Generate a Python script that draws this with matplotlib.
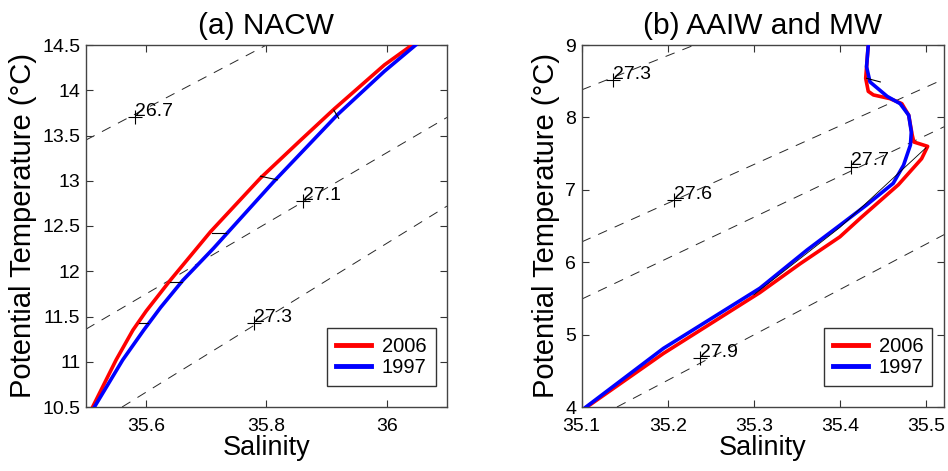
import matplotlib
matplotlib.use("Agg")
import matplotlib.pyplot as plt

plt.rcParams['font.family'] = ['Liberation Sans', 'DejaVu Sans']
plt.rcParams['lines.scale_dashes'] = False

# ---- (a) NACW ----
a_s_2006 = [35.511, 35.550, 35.578, 35.600, 35.640, 35.707, 35.790, 35.857, 35.912, 35.996, 36.042]
a_t_2006 = [10.50, 11.02, 11.35, 11.56, 11.90, 12.437, 13.03, 13.45, 13.79, 14.28, 14.50]
a_s_1997 = [35.514, 35.561, 35.596, 35.624, 35.661, 35.712, 35.812, 35.918, 35.996, 36.048]
a_t_1997 = [10.50, 11.02, 11.35, 11.60, 11.90, 12.254, 12.99, 13.73, 14.21, 14.50]

# isopycnal segments (start S, start T, end S, end T) and label points
a_iso_s0 = [35.50, 35.50, 35.56]
a_iso_t0 = [13.45, 11.36, 10.50]
a_iso_s1 = [35.80, 36.10, 36.10]
a_iso_t1 = [14.50, 13.70, 12.72]
a_lab_s = [35.582, 35.860, 35.780]
a_lab_t = [13.70, 12.776, 11.43]
a_lab_txt = ["26.7", "27.1", "27.3"]

# short black links between the two profiles
a_link_s0 = [35.588, 35.640, 35.709, 35.790, 35.912]
a_link_t0 = [11.43, 11.885, 12.42, 13.05, 13.78]
a_link_s1 = [35.603, 35.660, 35.732, 35.818, 35.920]
a_link_t1 = [11.43, 11.885, 12.42, 13.01, 13.69]

# ---- (b) AAIW and MW ----
b_s_2006 = [35.433, 35.430, 35.433, 35.439, 35.458, 35.472, 35.480, 35.484, 35.486,
            35.502, 35.495, 35.468, 35.424, 35.400, 35.354, 35.307, 35.195, 35.106]
b_t_2006 = [9.00, 8.54, 8.36, 8.31, 8.26, 8.19, 8.03, 7.76, 7.66,
            7.60, 7.43, 7.07, 6.61, 6.35, 5.98, 5.58, 4.74, 4.00]
b_s_1997 = [35.433, 35.431, 35.435, 35.455, 35.470, 35.480, 35.483, 35.482,
            35.474, 35.462, 35.431, 35.400, 35.362, 35.307, 35.195, 35.105]
b_t_1997 = [9.00, 8.70, 8.49, 8.29, 8.19, 8.03, 7.80, 7.62,
            7.34, 7.09, 6.79, 6.51, 6.17, 5.64, 4.81, 4.00]

b_iso_s0 = [35.100, 35.100, 35.100, 35.141]
b_iso_t0 = [8.38, 6.28, 5.49, 4.00]
b_iso_s1 = [35.231, 35.521, 35.521, 35.521]
b_iso_t1 = [9.00, 8.53, 7.87, 6.38]
b_lab_s = [35.136, 35.207, 35.413, 35.238]
b_lab_t = [8.52, 6.86, 7.32, 4.67]
b_lab_txt = ["27.3", "27.6", "27.7", "27.9"]

b_link_s = [35.500, 35.400, 35.300]
b_link_t = [7.58, 6.48, 5.55]
b_link2_s = [35.431, 35.447]
b_link2_t = [8.54, 8.49]

RED = '#ff0000'
BLUE = '#0000ff'


def style_axes(ax, xlim, ylim, xticks, yticks, xlabels, ylabels):
    ax.set_xlim(*xlim)
    ax.set_ylim(*ylim)
    ax.set_xticks(xticks)
    ax.set_xticklabels(xlabels)
    ax.set_yticks(yticks)
    ax.set_yticklabels(ylabels)
    ax.tick_params(direction='in', length=5, width=0.8, top=True, right=True,
                   labelsize=14, colors='#333333', labelcolor='black')
    ax.tick_params(axis='x', pad=8)
    ax.tick_params(axis='y', pad=4)
    for sp in ax.spines.values():
        sp.set_color('#444444')
        sp.set_linewidth(1.0)
    ax.set_xlabel("Salinity", fontsize=19.5, labelpad=0)
    ax.set_ylabel("Potential Temperature (\u00b0C)", fontsize=21, labelpad=4)


def draw_iso(ax, s0, t0, s1, t1, ls, lt, txt):
    for i in range(len(s0)):
        ax.plot([s0[i], s1[i]], [t0[i], t1[i]], color='0.15', lw=0.7,
                linestyle=(0, (7, 6)), zorder=1)
    for s, t, lab in zip(ls, lt, txt):
        ax.plot(s, t, marker='+', color='black', ms=10, mew=0.8, zorder=2)
        ax.annotate(lab, (s, t), xytext=(0, -2), textcoords='offset points',
                    ha='left', va='bottom', fontsize=14, zorder=3)


fig = plt.figure(figsize=(9.48, 4.71), dpi=100)

ax1 = fig.add_axes([86 / 948, 1 - 407 / 471, 361 / 948, 362 / 471])
draw_iso(ax1, a_iso_s0, a_iso_t0, a_iso_s1, a_iso_t1, a_lab_s, a_lab_t, a_lab_txt)
ax1.plot(a_s_2006, a_t_2006, color=RED, lw=2.6, label='2006', zorder=4)
ax1.plot(a_s_1997, a_t_1997, color=BLUE, lw=2.6, label='1997', zorder=4)
for i in range(len(a_link_s0)):
    ax1.plot([a_link_s0[i], a_link_s1[i]], [a_link_t0[i], a_link_t1[i]],
             color='black', lw=0.8, zorder=5)
style_axes(ax1, (35.5, 36.1), (10.5, 14.5), [35.6, 35.8, 36.0],
           [10.5, 11, 11.5, 12, 12.5, 13, 13.5, 14, 14.5],
           ["35.6", "35.8", "36"],
           ["10.5", "11", "11.5", "12", "12.5", "13", "13.5", "14", "14.5"])
ax1.set_title("(a) NACW", fontsize=21.5, pad=8)

ax2 = fig.add_axes([581.7 / 948, 1 - 407 / 471, 362.3 / 948, 362 / 471])
draw_iso(ax2, b_iso_s0, b_iso_t0, b_iso_s1, b_iso_t1, b_lab_s, b_lab_t, b_lab_txt)
ax2.plot(b_s_2006, b_t_2006, color=RED, lw=2.6, label='2006', zorder=4)
ax2.plot(b_s_1997, b_t_1997, color=BLUE, lw=2.6, label='1997', zorder=4)
ax2.plot(b_link_s, b_link_t, color='black', lw=0.6, zorder=5)
ax2.plot(b_link2_s, b_link2_t, color='black', lw=0.8, zorder=5)
style_axes(ax2, (35.1, 35.521), (4, 9), [35.1, 35.2, 35.3, 35.4, 35.5],
           [4, 5, 6, 7, 8, 9],
           ["35.1", "35.2", "35.3", "35.4", "35.5"],
           ["4", "5", "6", "7", "8", "9"])
ax2.set_title("(b) AAIW and MW", fontsize=21.5, pad=8)

for ax in (ax1, ax2):
    leg = ax.legend(loc='lower right', bbox_to_anchor=(1 - 11.5 / 361, 21 / 362),
                    borderaxespad=0, fontsize=14.5, handlelength=1.7,
                    handletextpad=0.55, borderpad=0.45, labelspacing=0.1,
                    fancybox=False, framealpha=1)
    leg.get_frame().set_edgecolor('#333333')
    leg.get_frame().set_linewidth(1.0)
    for h in leg.get_lines():
        h.set_linewidth(3.5)

fig.savefig("out.png", dpi=100)
